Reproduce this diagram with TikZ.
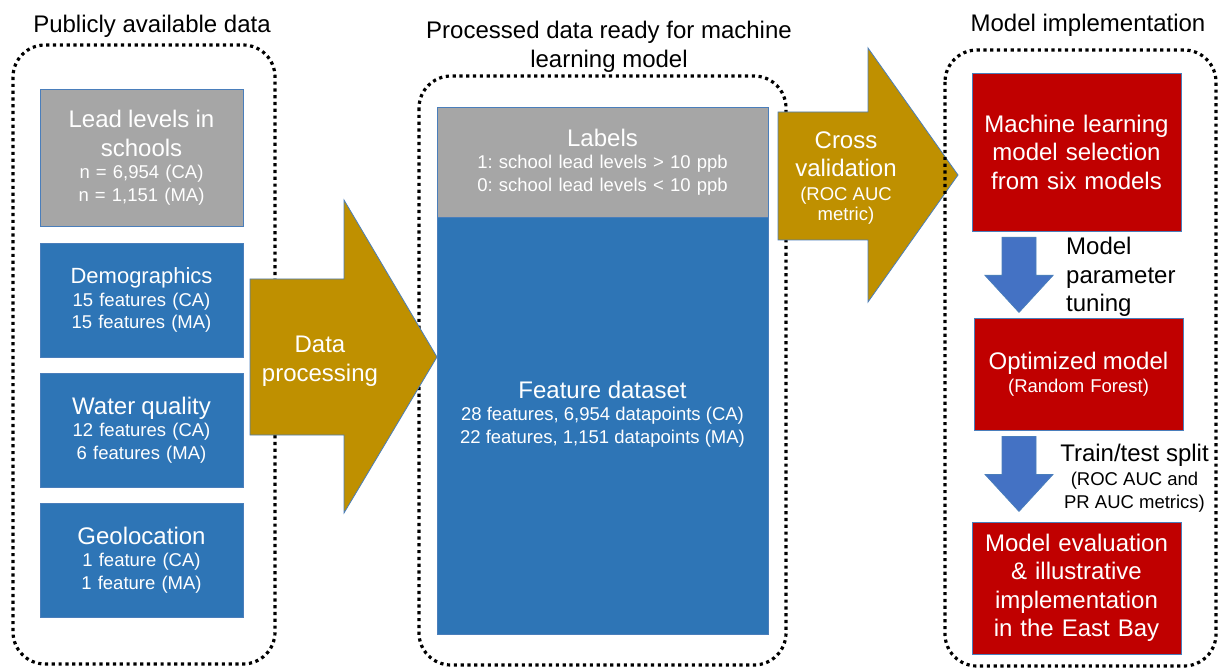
\documentclass[tikz,border=0pt]{standalone}
\usepackage{fontspec}
\setmainfont{Liberation Sans}
\usetikzlibrary{calc}
\setlength{\parindent}{0pt}
\frenchspacing

\definecolor{srcblue}{HTML}{2E75B6}
\definecolor{labgray}{HTML}{A6A6A6}
\definecolor{procgold}{HTML}{BF9000}
\definecolor{modred}{HTML}{C00000}
\definecolor{arrblue}{HTML}{4472C4}
\definecolor{edgeblue}{HTML}{4A7EBB}

\newcommand{\headfont}{\fontsize{24}{28.5}\selectfont}
\newcommand{\subfont}{\fontsize{18.5}{22.5}\selectfont}

\begin{document}
\begin{tikzpicture}[x=1pt, y=-1pt,
cont/.style={draw=black, line width=3.2pt, dash pattern=on 3.2pt off 3.6pt, rounded corners=32pt},
srcrect/.style={rectangle, align=center, draw=edgeblue, line width=0.8pt, fill=srcblue, text=white, font=\subfont,
  minimum width=203pt, text width=197pt, inner xsep=3pt, inner ysep=0pt, minimum height=114pt},
labrect/.style={srcrect, fill=labgray},
modrect/.style={srcrect, fill=modred, minimum width=209pt, text width=203pt},
goldarr/.style={fill=procgold, draw=edgeblue, line width=0.8pt},
arrtext/.style={align=center, text=white, inner sep=0pt},
grptitle/.style={font=\headfont, align=center, inner sep=0pt},
fatdown/.pic={\filldraw[fill=arrblue, draw=edgeblue, line width=0.8pt]
  (-17,0) -- (17,0) -- (17,38) -- (34,38) -- (0,75) -- (-34,38) -- (-17,38) -- cycle;}
]
\useasboundingbox (0,0) rectangle (1218,668);

% dotted group frames
\draw[cont] (13,45) rectangle (275,664);
\draw[cont] (419,76) rectangle (786,665);

% group titles
\node[grptitle] (t1) at (152,26) {Publicly available data};
\node[grptitle] (t2) at (609,47) {Processed data ready for machine\\learning model};
\node[grptitle] (t3) at (1088,25) {Model implementation};

% public data
\node[labrect, minimum height=137pt] (lead) at (141.5,157.5) {{\headfont Lead levels in\\schools\par}n = 6,954 (CA)\\n = 1,151 (MA)};
\node[srcrect] (demo) at (141.5,300) {{\fontsize{22}{26}\selectfont Demographics\par}15 features (CA)\\15 features (MA)};
\node[srcrect] (water) at (141.5,430) {{\headfont Water quality\par}12 features (CA)\\6 features (MA)};
\node[srcrect] (geo) at (141.5,560) {{\headfont Geolocation\par}1 feature (CA)\\1 feature (MA)};

% processed data
\node[labrect, minimum width=331pt, text width=325pt, minimum height=110pt] (lab) at (602.5,162) {{\headfont Labels\par}1: school lead levels > 10 ppb\\0: school lead levels < 10 ppb};
\node[srcrect, minimum width=331pt, text width=325pt, minimum height=417pt] (feat) at (602.5,425.5) {};
\node[arrtext, font=\subfont] (feattxt) at (602.5,414) {{\headfont Feature dataset}\\28 features, 6,954 datapoints (CA)\\22 features, 1,151 datapoints (MA)};

% big arrows
\filldraw[goldarr] (250,279) -- (344,279) -- (344,200) -- (437,357) -- (344,513) -- (344,435) -- (250,435) -- cycle;
\node[arrtext, font=\headfont] (dp) at (320,361) {Data\\processing};
\filldraw[goldarr] (778,112) -- (868,112) -- (868,48) -- (958,175) -- (868,302) -- (868,240) -- (778,240) -- cycle;
\node[arrtext, font=\headfont] (cv) at (846,178) {Cross\\validation\\[-4.5pt]{\subfont (ROC AUC}\\[-8.5pt]{\subfont metric)}};

% model implementation
\draw[cont] (945,50) rectangle (1216,666);
\node[modrect, minimum height=158pt, font=\headfont] (sel) at (1076.5,152) {Machine learning\\model selection\\from six models};
\node[modrect, minimum height=112pt] (opt) at (1078.5,374) {{\headfont Optimized model\par}(Random Forest)};
\node[modrect, minimum height=132pt, font=\headfont] (eval) at (1076.5,588) {Model evaluation\\\& illustrative\\implementation\\in the East Bay};

\coordinate (ax) at (1019,0);
\pic at ($(sel.south -| ax)+(0,6)$) {fatdown};
\pic at ($(opt.south -| ax)+(0,6)$) {fatdown};

\node[align=left, font=\headfont, text width=150pt, inner sep=0pt, anchor=west] (tune) at (1066,277) {Model\\parameter\\tuning};
\node[align=center, font=\subfont, inner sep=0pt] (split) at (1134.5,478) {{\headfont Train/test split}\\[1.5pt](ROC AUC and\\PR AUC metrics)};

\end{tikzpicture}
\end{document}
